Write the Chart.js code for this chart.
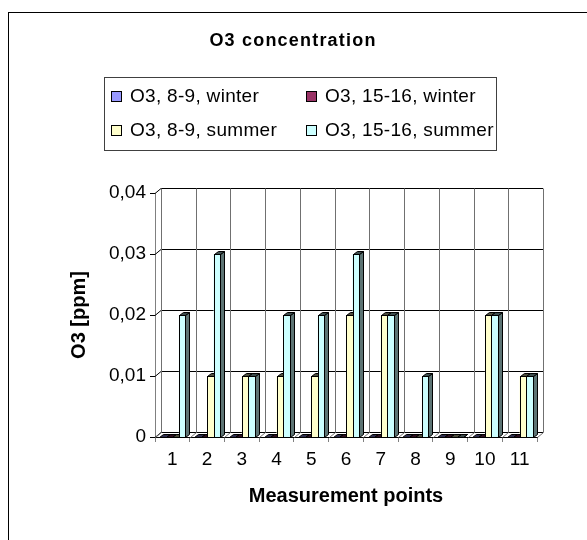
<!DOCTYPE html>
<html lang="en">
<head>
  <meta charset="UTF-8">
  <title>O3 concentration</title>
  <script src="https://cdn.jsdelivr.net/npm/chart.js"></script>
  <style>
    body { margin: 0; background: #fff; }
    canvas { display: block; }
  </style>
</head>
<body>
  <canvas id="o3Chart" width="587" height="540"></canvas>

  <script>
    // values
    const chartTitle = 'O3 concentration';
    const points = ['1', '2', '3', '4', '5', '6', '7', '8', '9', '10', '11'];
    const seriesNames = ['O3, 8-9, winter', 'O3, 15-16, winter', 'O3, 8-9, summer', 'O3, 15-16, summer'];
    const winterMorning   = [0, 0, 0, 0, 0, 0, 0, 0, 0, 0, 0];
    const winterAfternoon = [0, 0, 0, 0, 0, 0, 0, 0, 0, 0, 0];
    const summerMorning   = [0, 0.01, 0.01, 0.01, 0.01, 0.02, 0.02, 0, 0, 0.02, 0.01];
    const summerAfternoon = [0.02, 0.03, 0.01, 0.02, 0.02, 0.03, 0.02, 0.01, 0, 0.02, 0.01];
    const yMax = 0.04;
    const yStep = 0.01;
    const xTitle = 'Measurement points';
    const yTitle = 'O3 [ppm]';

    const FONT = "'Liberation Sans', Arial, sans-serif";
    const colors = ['#9999FF', '#993366', '#FFFFCC', '#CCFFFF'];
    const WALL = { dx: 6, dy: 5 };   // back wall offset of the 3d frame
    const BAR = { dx: 4, dy: 3 };    // depth of each column

    function shade(hex, f) {
      const n = parseInt(hex.slice(1), 16);
      const r = Math.round(((n >> 16) & 255) * f);
      const g = Math.round(((n >> 8) & 255) * f);
      const b = Math.round((n & 255) * f);
      return `rgb(${r},${g},${b})`;
    }

    // walls, gridlines and column sides/tops (Excel 3d look)
    const frame3d = {
      id: 'frame3d',
      beforeDatasetsDraw(chart) {
        const { ctx, chartArea: a, scales: { x, y } } = chart;
        ctx.save();
        ctx.lineWidth = 1;
        ctx.strokeStyle = '#000';
        y.ticks.forEach(t => {
          const py = Math.round(y.getPixelForValue(t.value)) + 0.5;
          ctx.beginPath();
          ctx.moveTo(a.left, py);
          ctx.lineTo(a.left + WALL.dx, py - WALL.dy);
          ctx.lineTo(a.right + WALL.dx, py - WALL.dy);
          ctx.stroke();
        });
        const step = (a.right - a.left) / points.length;
        ctx.strokeStyle = '#707070';
        for (let i = 0; i <= points.length; i++) {
          const px = Math.round(a.left + i * step) + 0.5;
          ctx.beginPath();
          ctx.moveTo(px, a.bottom + 0.5);
          ctx.lineTo(px + WALL.dx, a.bottom + 0.5 - WALL.dy);
          ctx.lineTo(px + WALL.dx, Math.round(a.top) + 0.5 - WALL.dy);
          ctx.stroke();
        }
        ctx.restore();
      },
      afterDatasetsDraw(chart) {
        const { ctx } = chart;
        const bars = [];
        chart.data.datasets.forEach((ds, i) => {
          chart.getDatasetMeta(i).data.forEach(el => {
            const p = el.getProps(['x', 'y', 'base', 'width'], true);
            bars.push({ ...p, color: ds.backgroundColor });
          });
        });
        bars.sort((a, b) => a.x - b.x);
        ctx.save();
        ctx.lineWidth = 1;
        ctx.strokeStyle = '#000';
        bars.forEach(b => {
          const x0 = Math.round(b.x - b.width / 2) + 0.5;
          const x1 = Math.round(b.x + b.width / 2) + 0.5;
          const top = Math.round(b.y) + 0.5;
          const base = Math.round(b.base) + 0.5;
          // right side
          ctx.fillStyle = shade(b.color, 0.45);
          ctx.beginPath();
          ctx.moveTo(x1, base);
          ctx.lineTo(x1 + BAR.dx, base - BAR.dy);
          ctx.lineTo(x1 + BAR.dx, top - BAR.dy);
          ctx.lineTo(x1, top);
          ctx.closePath();
          ctx.fill();
          ctx.stroke();
          // top
          ctx.fillStyle = shade(b.color, 0.3);
          ctx.beginPath();
          ctx.moveTo(x0, top);
          ctx.lineTo(x0 + BAR.dx, top - BAR.dy);
          ctx.lineTo(x1 + BAR.dx, top - BAR.dy);
          ctx.lineTo(x1, top);
          ctx.closePath();
          ctx.fill();
          ctx.stroke();
          // front
          if (base - top > 0) {
            ctx.fillStyle = b.color;
            ctx.fillRect(x0, top, x1 - x0, base - top);
            ctx.strokeRect(x0, top, x1 - x0, base - top);
          }
        });
        ctx.restore();
      }
    };

    // outer frame, title and boxed two-column legend
    const chrome = {
      id: 'chrome',
      afterDraw(chart) {
        const { ctx } = chart;
        ctx.save();
        ctx.lineWidth = 1;
        ctx.strokeStyle = '#000';
        ctx.strokeRect(8.5, 12.5, 640, 640);

        ctx.fillStyle = '#000';
        ctx.font = `bold 18px ${FONT}`;
        ctx.textAlign = 'center';
        ctx.textBaseline = 'alphabetic';
        ctx.letterSpacing = '1.2px';
        ctx.fillText(chartTitle, 293, 46);

        ctx.strokeStyle = '#404040';
        ctx.strokeRect(104.5, 77.5, 392, 73);
        ctx.font = `19px ${FONT}`;
        ctx.letterSpacing = '0.3px';
        ctx.textAlign = 'left';
        chart.data.datasets.forEach((ds, i) => {
          const col = i % 2, row = Math.floor(i / 2);
          const sx = 111.5 + col * 195, sy = 91.5 + row * 34;
          ctx.fillStyle = ds.backgroundColor;
          ctx.fillRect(sx, sy, 10, 10);
          ctx.strokeStyle = '#000';
          ctx.strokeRect(sx, sy, 10, 10);
          ctx.fillStyle = '#000';
          ctx.fillText(ds.label, 130 + col * 195, 102 + row * 34);
        });
        ctx.restore();
      }
    };

    const values = [winterMorning, winterAfternoon, summerMorning, summerAfternoon];

    new Chart(document.getElementById('o3Chart'), {
      type: 'bar',
      data: {
        labels: points,
        datasets: seriesNames.map((name, i) => ({
          label: name,
          data: values[i],
          backgroundColor: colors[i],
          borderColor: '#000',
          borderWidth: 0,
          categoryPercentage: 0.75,
          barPercentage: 1.0
        }))
      },
      options: {
        responsive: false,
        animation: false,
        devicePixelRatio: 1,
        layout: { padding: { top: 193, right: 50, bottom: 0, left: 0 } },
        plugins: {
          legend: { display: false },
          title: { display: false },
          tooltip: { enabled: false }
        },
        scales: {
          x: {
            afterFit(scale) { scale.height = 103; },
            grid: { drawOnChartArea: false, drawTicks: true, tickLength: 5, color: '#808080', offset: true },
            border: { display: true, color: '#000' },
            ticks: { color: '#000', padding: 6, font: { family: FONT, size: 19 }, maxRotation: 0 },
            title: { display: true, text: xTitle, color: '#000', padding: { top: 0, bottom: 32 }, font: { family: FONT, size: 20, weight: 'bold' } }
          },
          y: {
            min: 0,
            max: yMax,
            afterFit(scale) { scale.width = 155; },
            grid: { drawOnChartArea: false, drawTicks: true, tickLength: 5, color: '#000' },
            border: { display: true, color: '#808080' },
            ticks: {
              stepSize: yStep,
              color: '#000',
              padding: 4,
              font: { family: FONT, size: 19 },
              callback: v => v === 0 ? '0' : v.toFixed(2).replace('.', ',')
            },
            title: { display: true, text: yTitle, color: '#000', padding: { top: 67, bottom: 0 }, font: { family: FONT, size: 20, weight: 'bold' } }
          }
        }
      },
      plugins: [frame3d, chrome]
    });
  </script>
</body>
</html>
